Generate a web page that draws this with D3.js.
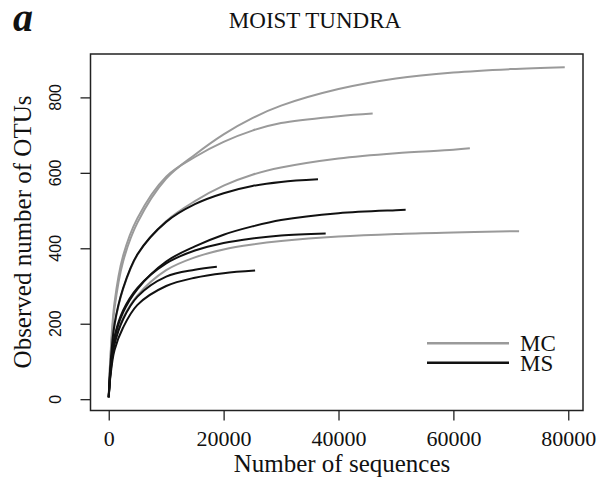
<!DOCTYPE html>
<html lang="en">
<head>
  <meta charset="UTF-8">
  <title>Moist tundra rarefaction curves</title>
  <style>
    body {
      margin: 0;
      background: #fff;
    }
    .curve {
      fill: none;
      stroke-width: 2;
    }
  </style>
  <script src="https://d3js.org/d3.v7.min.js"></script>
</head>
<body>
  <svg id="chart" width="604" height="490"></svg>

  <script>
    const depth = [0, 300, 1000, 2500, 5000, 10000, 15000, 20000, 25000, 30000, 40000, 50000, 60000, 70000];

    // MC samples (grey): OTUs at each depth, plus last point of each curve
    const mc1 = [5, 110, 240, 365, 468, 585, 648, 702, 745, 778, 822, 850, 866, 875];
    const mc2 = [5, 115, 255, 380, 480, 590, 642, 682, 712, 732, 750];
    const mc3 = [5, 90, 195, 292, 383, 472, 525, 566, 595, 614, 638, 652, 661];
    const mc4 = [5, 70, 150, 215, 275, 342, 376, 397, 410, 419, 431, 438, 442, 445];
    const mcEndSeq = [79390, 45950, 62870, 71440];
    const mcEndOtu = [880, 757, 665, 445];

    // MS samples (black)
    const ms1 = [5, 92, 198, 294, 384, 470, 517, 546, 565, 576];
    const ms2 = [5, 75, 160, 230, 292, 365, 405, 436, 458, 475, 493, 501];
    const ms3 = [5, 78, 165, 235, 295, 360, 394, 414, 426, 434];
    const ms4 = [5, 68, 145, 212, 272, 325, 343];
    const ms5 = [5, 62, 130, 190, 250, 300, 322, 334];
    const msEndSeq = [36430, 51690, 37770, 18820, 25480];
    const msEndOtu = [583, 502, 439, 351, 341];

    const xTicks = [0, 20000, 40000, 60000, 80000];
    const yTicks = [0, 200, 400, 600, 800];
    const groups = ["MC", "MS"];
    const groupColor = {MC: "#9a9a9a", MS: "#111"};

    const serif = "'Liberation Serif', 'Times New Roman', serif";
    const sans = "'Liberation Sans', Arial, sans-serif";

    // build point lists
    function makeSeries(vals, endX, endY) {
      const pts = vals.map((v, i) => [depth[i], v]);
      pts.push([endX, endY]);
      return pts;
    }
    const series = [];
    [mc1, mc2, mc3, mc4].forEach((v, i) =>
      series.push({group: "MC", pts: makeSeries(v, mcEndSeq[i], mcEndOtu[i])}));
    [ms1, ms2, ms3, ms4, ms5].forEach((v, i) =>
      series.push({group: "MS", pts: makeSeries(v, msEndSeq[i], msEndOtu[i])}));

    // plot box
    const box = {left: 90.5, right: 583, top: 54, bottom: 410.5};

    // R style 4% padding around the data range
    const allX = series.flatMap(s => s.pts.map(p => p[0]));
    const allY = series.flatMap(s => s.pts.map(p => p[1]));
    const [x0, x1] = d3.extent(allX);
    const [y0, y1] = d3.extent(allY);
    const xPad = (x1 - x0) * 0.04, yPad = (y1 - y0) * 0.04;

    const x = d3.scaleLinear()
      .domain([x0 - xPad, x1 + xPad])
      .range([box.left, box.right]);
    const y = d3.scaleLinear()
      .domain([y0 - yPad, y1 + yPad])
      .range([box.bottom, box.top]);

    const svg = d3.select("#chart");

    // curves, grey first so black sits on top
    const line = d3.line()
      .x(d => x(d[0]))
      .y(d => y(d[1]))
      .curve(d3.curveCatmullRom.alpha(0.5));

    svg.append("g").selectAll("path")
      .data(series)
      .enter().append("path")
      .attr("class", "curve")
      .attr("d", d => line(d.pts))
      .attr("stroke", d => groupColor[d.group]);

    // x axis
    const xAxis = svg.append("g")
      .attr("transform", `translate(0,${box.bottom})`)
      .call(d3.axisBottom(x).tickValues(xTicks).tickFormat(d3.format("d")).tickSize(10));
    xAxis.select(".domain").remove();
    xAxis.selectAll("line").attr("stroke", "#222").attr("stroke-width", 1.3);
    xAxis.selectAll("text")
      .attr("y", 20).attr("dy", "0.72em")
      .style("font-family", serif)
      .style("font-size", "22px").attr("fill", "#111");

    // y axis: ticks from d3, labels drawn turned like R does
    const yAxis = svg.append("g")
      .attr("transform", `translate(${box.left},0)`)
      .call(d3.axisLeft(y).tickValues(yTicks).tickSize(10).tickFormat(""));
    yAxis.select(".domain").remove();
    yAxis.selectAll("line").attr("stroke", "#222").attr("stroke-width", 1.3);

    svg.append("g").selectAll("text")
      .data(yTicks)
      .enter().append("text")
      .attr("transform", d => `translate(61,${y(d)}) rotate(-90)`)
      .attr("text-anchor", "middle")
      .style("font-family", sans)
      .style("font-size", "16px").attr("fill", "#111")
      .text(d => d);

    // frame
    svg.append("rect")
      .attr("x", box.left).attr("y", box.top)
      .attr("width", box.right - box.left).attr("height", box.bottom - box.top)
      .attr("fill", "none").attr("stroke", "#222").attr("stroke-width", 1.5);

    // axis titles
    svg.append("text")
      .attr("x", 342).attr("y", 472)
      .attr("text-anchor", "middle")
      .style("font-family", serif)
      .style("font-size", "25px").attr("fill", "#111")
      .text("Number of sequences");

    svg.append("text")
      .attr("transform", "translate(31,232) rotate(-90)")
      .attr("text-anchor", "middle")
      .style("font-family", serif)
      .style("font-size", "25px").attr("fill", "#111")
      .text("Observed number of OTUs");

    // chart title and panel letter
    svg.append("text")
      .attr("x", 315).attr("y", 28)
      .attr("text-anchor", "middle")
      .style("font-family", serif)
      .style("font-size", "23px").attr("fill", "#111")
      .text("MOIST TUNDRA");

    svg.append("text")
      .attr("x", 13).attr("y", 31)
      .style("font-family", serif)
      .style("font-size", "40px").style("font-weight", "bold").style("font-style", "italic")
      .attr("fill", "#111")
      .text("a");

    // legend
    const legend = svg.append("g");
    groups.forEach((g, i) => {
      const ly = 343.3 + i * 19.4;
      legend.append("line")
        .attr("x1", 427).attr("x2", 509)
        .attr("y1", ly).attr("y2", ly)
        .attr("stroke", groupColor[g]).attr("stroke-width", 2.4);
      legend.append("text")
        .attr("x", 520).attr("y", ly)
        .attr("dy", "0.35em")
        .style("font-family", serif)
        .style("font-size", "23px").attr("fill", "#111")
        .text(g);
    });
  </script>
</body>
</html>
